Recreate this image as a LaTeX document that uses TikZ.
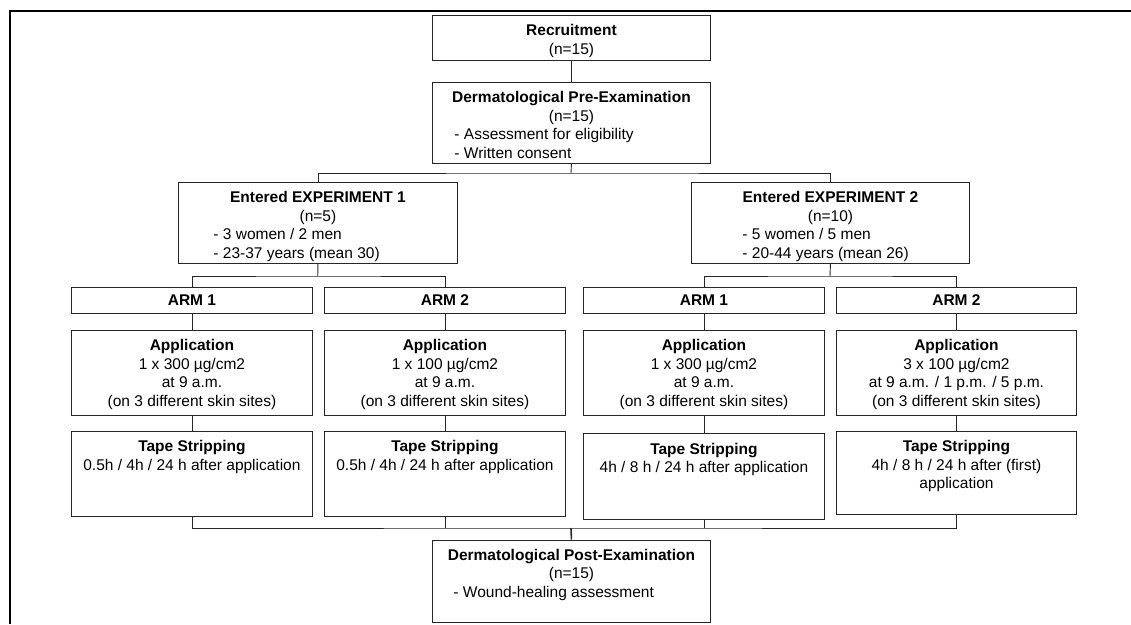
\documentclass[tikz,border=0pt]{standalone}
\usepackage{fontspec}
\setmainfont{Liberation Sans}
\newcommand{\bxt}[3]{\parbox[c][#1][t]{#2}{\centering\rule{0pt}{20.5pt}#3}}
\newcommand{\itm}[3]{\makebox[#1][l]{\hspace*{#2}#3}}
\tikzset{
  box/.style={draw=black!85, line width=0.9pt, inner sep=0pt, anchor=north west, font=\fontsize{15.5}{18.5}\selectfont},
  armbox/.style={box, minimum height=26pt, font=\fontsize{15.5}{18.5}\selectfont\bfseries},
  link/.style={draw=black!85, line width=0.9pt},
  frame/.style={draw=black, line width=2pt}
}
\begin{document}
\begin{tikzpicture}[x=1pt,y=-1pt]
\useasboundingbox (0,0) rectangle (1131,624);
\draw[frame] (1131,11) -- (10,11) -- (10,624);

\node[box] (rec) at (432,15) {\bxt{45pt}{278pt}{\textbf{Recruitment}\\(n=15)}};
\node[box] (pre) at (432,82) {\bxt{81pt}{278pt}{\textbf{Dermatological Pre-Examination}\\(n=15)\\\itm{278pt}{22pt}{- Assessment for eligibility}\\\itm{278pt}{22pt}{- Written consent}}};
\node[box] (e1) at (178,182) {\bxt{81pt}{279pt}{\textbf{Entered EXPERIMENT 1}\\(n=5)\\\itm{279pt}{35pt}{- 3 women / 2 men}\\\itm{279pt}{35pt}{- 23-37 years (mean 30)}}};
\node[box] (e2) at (691,182) {\bxt{81pt}{278pt}{\textbf{Entered EXPERIMENT 2}\\(n=10)\\\itm{278pt}{51pt}{- 5 women / 5 men}\\\itm{278pt}{51pt}{- 20-44 years (mean 26)}}};

\node[armbox, minimum width=241pt] (a11) at (71,287) {ARM 1};
\node[armbox, minimum width=241pt] (a12) at (324,287) {ARM 2};
\node[armbox, minimum width=241pt] (a21) at (583,287) {ARM 1};
\node[armbox, minimum width=240pt] (a22) at (836,287) {ARM 2};

\node[box] (p11) at (71,330) {\bxt{85pt}{241pt}{\textbf{Application}\\1 x 300 µg/cm2\\at 9 a.m.\\(on 3 different skin sites)}};
\node[box] (p12) at (324,330) {\bxt{85pt}{241pt}{\textbf{Application}\\1 x 100 µg/cm2\\at 9 a.m.\\(on 3 different skin sites)}};
\node[box] (p21) at (583,330) {\bxt{85pt}{241pt}{\textbf{Application}\\1 x 300 µg/cm2\\at 9 a.m.\\(on 3 different skin sites)}};
\node[box] (p22) at (836,330) {\bxt{85pt}{240pt}{\textbf{Application}\\3 x 100 µg/cm2\\at 9 a.m. / 1 p.m. / 5 p.m.\\(on 3 different skin sites)}};

\node[box] (t11) at (71,430.7) {\bxt{85pt}{241pt}{\textbf{Tape Stripping}\\0.5h / 4h / 24 h after application}};
\node[box] (t12) at (324,430.7) {\bxt{85pt}{241pt}{\textbf{Tape Stripping}\\0.5h / 4h / 24 h after application}};
\node[box] (t21) at (583,433.3) {\bxt{85.7pt}{241pt}{\textbf{Tape Stripping}\\4h / 8 h / 24 h after application}};
\node[box] (t22) at (836,430.7) {\bxt{83.6pt}{240pt}{\textbf{Tape Stripping}\\4h / 8 h / 24 h after (first)\\application}};

\node[box] (post) at (432,539.5) {\bxt{82pt}{278pt}{\textbf{Dermatological Post-Examination}\\(n=15)\\\itm{278pt}{21pt}{- Wound-healing assessment}}};

\coordinate (j1) at (571,173);
\coordinate (s1) at (317.75,276);
\coordinate (s2) at (830,276);
\coordinate (j2) at (571,528);

\draw[link] (rec.south) -- (pre.north);
\draw[link] (pre.south) -- (j1);
\draw[link] (e1.north) |- (j1) -| (e2.north);
\draw[link] (e1.south) -- (s1);
\draw[link] (e2.south) -- (s2);
\draw[link] (a11.north) |- (s1) -| (a12.north);
\draw[link] (a21.north) |- (s2) -| (a22.north);
\foreach \a/\p/\t in {a11/p11/t11, a12/p12/t12, a21/p21/t21, a22/p22/t22}{
  \draw[link] (\a.south) -- (\p.north);
  \draw[link] (\p.south) -- (\t.north);
}
\draw[link] (t11.south) |- (j2) -| (t22.south);
\draw[link] (t12.south) -- (t12.south |- j2);
\draw[link] (t21.south) -- (t21.south |- j2);
\draw[link, line width=1.6pt] (j2) -- (post.north);
\end{tikzpicture}
\end{document}
